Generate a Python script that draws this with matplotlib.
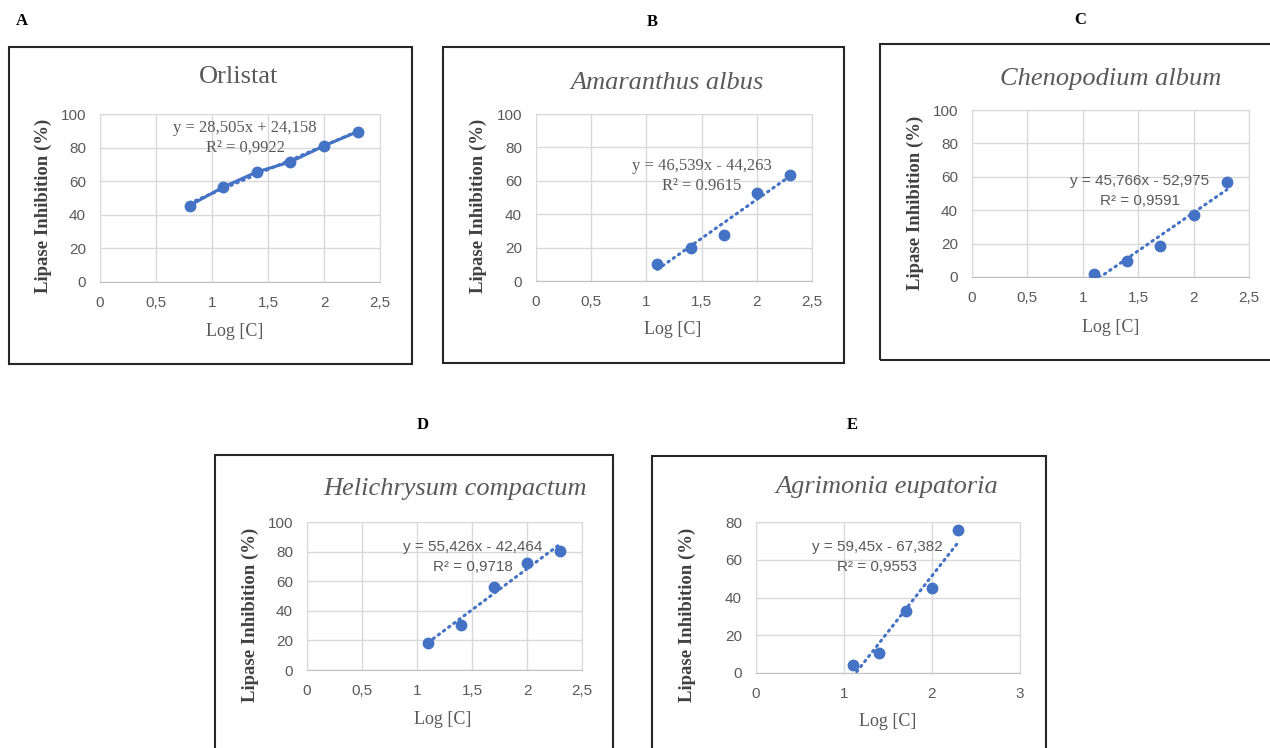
import numpy as np
import matplotlib.pyplot as plt
from matplotlib.patches import Rectangle

W, H = 1270, 748

# data
log_c_a = [0.8, 1.1, 1.4, 1.7, 2.0, 2.3]
log_c = [1.1, 1.4, 1.7, 2.0, 2.3]
orlistat = [45.5, 56.5, 65.5, 71.5, 81, 89.5]
amaranthus = [10, 19.5, 27.5, 52.5, 63.5]
chenopodium = [1.5, 9.5, 18.5, 37, 57]
helichrysum = [18, 30.5, 56, 72.5, 80.5]
agrimonia = [4, 10.5, 33, 45, 76]

letters = ["A", "B", "C", "D", "E"]
titles = ["Orlistat", "Amaranthus albus", "Chenopodium album",
          "Helichrysum compactum", "Agrimonia eupatoria"]
slopes = [28.505, 46.539, 45.766, 55.426, 59.45]
intercepts = [24.158, -44.263, -52.975, -42.464, -67.382]
equations = ["y = 28,505x + 24,158", "y = 46,539x - 44,263", "y = 45,766x - 52,975",
             "y = 55,426x - 42,464", "y = 59,45x - 67,382"]
r2_labels = ["R² = 0,9922", "R² = 0.9615", "R² = 0,9591", "R² = 0,9718", "R² = 0,9553"]

xs = [log_c_a, log_c, log_c, log_c, log_c]
ys = [orlistat, amaranthus, chenopodium, helichrysum, agrimonia]

# layout in pixels: axes box (x0, x1, ytop, ybottom), frame box, letter, title, eq, xlabel, ylabel
panels = [
    dict(ax=(100, 380, 114, 282), box=(9, 412, 47, 364), letter=(22, 21), title=(239, 77),
         eq=(245, 128), xl=(235, 332), yl=(43, 206), xmax=2.5, xstep=0.5, ymax=100,
         eqfont="serif", italic=False, solid=True),
    dict(ax=(536, 812, 114, 281), box=(443, 844, 47, 363), letter=(652, 22), title=(667, 83),
         eq=(702, 166), xl=(673, 330), yl=(478, 206), xmax=2.5, xstep=0.5, ymax=100,
         eqfont="serif", italic=True, solid=False),
    dict(ax=(972, 1249, 110, 277), box=(880, 1290, 44, 360), letter=(1080, 20), title=(1111, 79),
         eq=(1140, 181), xl=(1111, 327), yl=(915, 203), xmax=2.5, xstep=0.5, ymax=100,
         eqfont="sans", italic=True, solid=False),
    dict(ax=(307, 582, 522, 670), box=(215, 613, 455, 770), letter=(423, 425), title=(455, 489),
         eq=(473, 547), xl=(443, 720), yl=(250, 615), xmax=2.5, xstep=0.5, ymax=100,
         eqfont="sans", italic=True, solid=False),
    dict(ax=(756, 1020, 522, 673), box=(652, 1046, 456, 770), letter=(852, 425), title=(887, 487),
         eq=(877, 547), xl=(888, 722), yl=(687, 615), xmax=3, xstep=1, ymax=80,
         eqfont="sans", italic=True, solid=False),
]

blue = "#4472C4"
gray = "#595959"
serif = "Liberation Serif"
sans = "Liberation Sans"

fig = plt.figure(figsize=(W / 100, H / 100), dpi=100)


def fx(x):
    return x / W


def fy(y):
    return 1 - y / H


for i, p in enumerate(panels):
    x0, x1, yt, yb = p["ax"]
    ax = fig.add_axes([fx(x0), fy(yb), fx(x1 - x0), (yb - yt) / H])

    # trendline from the printed equation
    tx = np.array([min(xs[i]), max(xs[i])])
    ax.plot(tx, slopes[i] * tx + intercepts[i], color=blue, lw=2.2,
            linestyle=(0, (0.5, 1.6)), dash_capstyle="round", zorder=2)
    if p["solid"]:
        ax.plot(xs[i], ys[i], color=blue, lw=2.2, zorder=3)
    ax.plot(xs[i], ys[i], "o", color=blue, markersize=7.5, zorder=4)

    ax.set_xlim(0, p["xmax"])
    ax.set_ylim(0, p["ymax"])
    ax.set_xticks(np.arange(0, p["xmax"] + 0.01, p["xstep"]))
    ax.set_yticks(np.arange(0, p["ymax"] + 1, 20))
    ax.xaxis.set_major_formatter(lambda v, pos: f"{v:g}".replace(".", ","))
    ax.grid(True, color="#d9d9d9", lw=1)
    ax.set_axisbelow(True)
    for s in ax.spines.values():
        s.set_color("#d9d9d9")
    ax.spines["bottom"].set_color("#bfbfbf")
    ax.tick_params(length=0, labelsize=11, labelcolor=gray, pad=10)
    for lab in ax.get_xticklabels() + ax.get_yticklabels():
        lab.set_fontfamily(sans)

    # equation text
    ex, ey = p["eq"]
    efam = serif if p["eqfont"] == "serif" else sans
    esize = 12 if p["eqfont"] == "serif" else 11
    fig.text(fx(ex), fy(ey), equations[i], ha="center", va="center",
             fontsize=esize, family=efam, color=gray)
    fig.text(fx(ex), fy(ey + 20), r2_labels[i], ha="center", va="center",
             fontsize=esize, family=efam, color=gray)

    # frame
    bx0, bx1, byt, byb = p["box"]
    fig.add_artist(Rectangle((fx(bx0), fy(byb)), fx(bx1 - bx0), (byb - byt) / H,
                             transform=fig.transFigure, fill=False, ec="#262626", lw=1.5))

    fig.text(fx(p["letter"][0]), fy(p["letter"][1]), letters[i], ha="center", va="center",
             fontsize=12, family=serif, weight="bold", color="black")
    fig.text(fx(p["title"][0]), fy(p["title"][1]), titles[i], ha="center", va="center",
             fontsize=19, family=serif, style="italic" if p["italic"] else "normal", color=gray)
    fig.text(fx(p["xl"][0]), fy(p["xl"][1]), "Log [C]", ha="center", va="center",
             fontsize=13, family=serif, color=gray)
    fig.text(fx(p["yl"][0]), fy(p["yl"][1]), "Lipase Inhibition (%)", ha="center", va="center",
             rotation=90, fontsize=13.5, family=serif, weight="bold", color="#404040")

fig.savefig("out.png", dpi=100)
